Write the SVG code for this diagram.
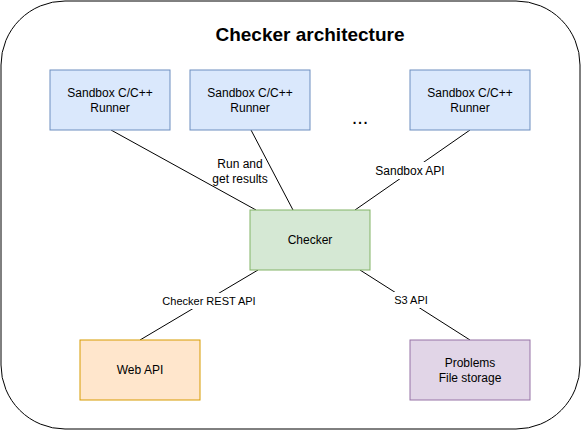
<svg xmlns="http://www.w3.org/2000/svg" width="581" height="431" viewBox="0 0 581 431">
<style>
text{font-family:"Liberation Sans",Arial,sans-serif;fill:#000;text-anchor:middle;}
.n{font-size:12px;}
.l{font-size:11px;}
.t{font-size:19px;font-weight:bold;}
.blue{fill:#dae8fc;stroke:#6c8ebf;stroke-width:1;}
.green{fill:#d5e8d4;stroke:#82b366;stroke-width:1;}
.orange{fill:#ffe6cc;stroke:#d79b00;stroke-width:1;}
.purple{fill:#e1d5e7;stroke:#9673a6;stroke-width:1;}
.e{stroke:#000;stroke-width:1;fill:none;}
.bg{fill:#fff;}
</style>
<g id="container">
<rect x="1" y="1" width="579" height="428" rx="64" ry="64" fill="#fff" stroke="#000" stroke-width="1"/>
<text class="t" x="310" y="41">Checker architecture</text>
</g>
<g id="connectors">
<line class="e" x1="111" y1="130" x2="256" y2="210"/>
<line class="e" x1="251" y1="130" x2="293" y2="210"/>
<line class="e" x1="470" y1="130" x2="355" y2="210"/>
<line class="e" x1="258" y1="270" x2="140" y2="340"/>
<line class="e" x1="360" y1="270" x2="470" y2="340"/>
<text class="n" x="240" y="168">Run and</text>
<text class="n" x="240" y="183">get results</text>
<rect class="bg" x="374" y="162" width="72" height="17"/>
<text class="n" x="410" y="175">Sandbox API</text>
<rect class="bg" x="160" y="293" width="98" height="16"/>
<text class="l" x="209" y="305">Checker REST API</text>
<rect class="bg" x="393" y="292" width="36" height="16"/>
<text class="l" x="411" y="304">S3 API</text>
</g>
<g id="runner1">
<rect class="blue" x="50" y="70" width="120" height="60"/>
<text class="n" x="110" y="97">Sandbox C/C++</text>
<text class="n" x="110" y="112">Runner</text>
</g>
<g id="runner2">
<rect class="blue" x="190" y="70" width="120" height="60"/>
<text class="n" x="250" y="97">Sandbox C/C++</text>
<text class="n" x="250" y="112">Runner</text>
</g>
<g id="ellipsis">
<text x="360" y="124" style="font-size:20px;">...</text>
</g>
<g id="runner3">
<rect class="blue" x="410" y="70" width="120" height="60"/>
<text class="n" x="470" y="97">Sandbox C/C++</text>
<text class="n" x="470" y="112">Runner</text>
</g>
<g id="checker">
<rect class="green" x="250" y="210" width="120" height="60"/>
<text class="n" x="310" y="244">Checker</text>
</g>
<g id="webapi">
<rect class="orange" x="80" y="340" width="120" height="60"/>
<text class="n" x="140" y="374">Web API</text>
</g>
<g id="storage">
<rect class="purple" x="410" y="340" width="120" height="60"/>
<text class="n" x="470" y="367">Problems</text>
<text class="n" x="470" y="382">File storage</text>
</g>
</svg>
